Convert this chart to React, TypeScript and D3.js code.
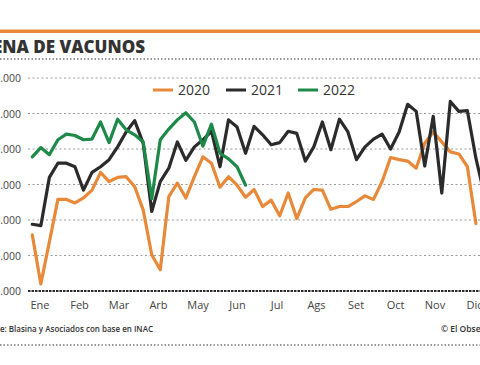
import * as d3 from "d3";
import { useEffect, useRef } from "react";

// weekly cattle slaughter (head)
const weeks2020 = [37900, 31000, 36900, 42900, 42900, 42400, 43100, 44200, 46700, 45400, 46000, 46100, 44700, 41400, 35100, 33000, 43300, 45200, 43100, 46100, 48900, 48000, 44600, 46100, 44900, 43200, 44300, 41900, 42800, 40600, 43800, 40200, 43100, 44300, 44200, 41500, 41900, 41900, 42600, 43400, 42900, 45400, 48800, 48500, 48300, 47300, 50800, 52400, 51000, 49600, 49300, 47500, 39500];
const weeks2021 = [39400, 39200, 46000, 48000, 48000, 47500, 44200, 46700, 47500, 48500, 50300, 52400, 54000, 50800, 41200, 45400, 47300, 51000, 48400, 50300, 51300, 52500, 47500, 54100, 53100, 49400, 53200, 52000, 50600, 50900, 52500, 52200, 48300, 50300, 53800, 49900, 54200, 52400, 48500, 50300, 51400, 52100, 50000, 52400, 56300, 55300, 47600, 54600, 43800, 56700, 55300, 55400, 48700, 43500];
const weeks2022 = [48900, 50200, 49200, 51300, 52100, 51900, 51300, 51400, 53800, 50900, 54200, 52700, 52000, 51000, 43000, 51300, 52800, 54100, 55100, 53800, 50400, 53500, 49400, 48600, 47500, 44900];

const years = ["2020", "2021", "2022"];
const months = ["Ene", "Feb", "Mar", "Arb", "May", "Jun", "Jul", "Ags", "Set", "Oct", "Nov", "Dic"];
const yTicks = [30000, 35000, 40000, 45000, 50000, 55000, 60000];

const colors = ["#e8893a", "#2b2b2b", "#1e8a4a"];
const font = "'Open Sans', sans-serif";

export default function App() {
    const svgRef = useRef(null);
    const width = 480;
    const height = 365;

    useEffect(() => {
        const svg = d3.select(svgRef.current)
            .attr("width", width)
            .attr("height", height);

        svg.selectAll("*").remove();

        const x = d3.scaleLinear().domain([0, 52]).range([32.3, 475.9]);
        const y = d3.scaleLinear().domain([30000, 60000]).range([291, 78]);
        const xMonth = d3.scaleBand().domain(months).range([20.25, 494.25]);
        const fmt = d3.formatLocale({ decimal: ",", thousands: ".", grouping: [3], currency: ["", ""] }).format(",");

        svg.append("rect").attr("width", width).attr("height", height).attr("fill", "#fff");

        // header
        svg.append("rect")
            .attr("x", 0).attr("y", 29.5).attr("width", width).attr("height", 3.5)
            .attr("fill", colors[0]);

        svg.append("text")
            .attr("x", 145).attr("y", 53)
            .attr("text-anchor", "end")
            .attr("font-family", font)
            .attr("font-weight", 800)
            .attr("font-size", 17)
            .attr("fill", "#333")
            .text("FAENA DE VACUNOS");

        svg.append("line")
            .attr("x1", 0).attr("x2", width).attr("y1", 59).attr("y2", 59)
            .attr("stroke", "#333").attr("stroke-width", 1.2)
            .attr("stroke-dasharray", "1.5,2");

        // grid + y labels
        const grid = svg.append("g");
        grid.selectAll("line")
            .data(yTicks.filter(t => t > 30000))
            .join("line")
            .attr("x1", 28).attr("x2", width)
            .attr("y1", d => y(d)).attr("y2", d => y(d))
            .attr("stroke", "#9a9a9a").attr("stroke-width", 1)
            .attr("stroke-dasharray", "2,2.5");

        grid.selectAll("text")
            .data(yTicks)
            .join("text")
            .attr("x", 21).attr("y", d => y(d) + 4)
            .attr("text-anchor", "end")
            .attr("font-family", font)
            .attr("font-size", 10.5)
            .attr("fill", "#444")
            .text(d => fmt(d));

        svg.append("line")
            .attr("x1", 28).attr("x2", width).attr("y1", y(30000)).attr("y2", y(30000))
            .attr("stroke", "#2b2b2b").attr("stroke-width", 2.2)
            .attr("stroke-dasharray", "2.5,1");

        // month labels
        svg.append("g").selectAll("text")
            .data(months)
            .join("text")
            .attr("x", d => xMonth(d) + xMonth.bandwidth() / 2)
            .attr("y", 309)
            .attr("text-anchor", "middle")
            .attr("font-family", font)
            .attr("font-size", 11)
            .attr("fill", "#444")
            .text(d => d);

        // series
        const line = d3.line()
            .x((d, i) => x(i))
            .y(d => y(d));

        const series = [weeks2020, weeks2021, weeks2022];
        svg.append("g").selectAll("path")
            .data(series)
            .join("path")
            .attr("d", d => line(d))
            .attr("fill", "none")
            .attr("stroke", (d, i) => colors[i])
            .attr("stroke-width", 3.2)
            .attr("stroke-linejoin", "round")
            .attr("stroke-linecap", "round");

        // legend
        const legendX = [153, 226, 298];
        const legend = svg.append("g").selectAll("g")
            .data(years)
            .join("g")
            .attr("transform", (d, i) => `translate(${legendX[i]}, 90)`);
        legend.append("line")
            .attr("x1", 0).attr("x2", 20).attr("y1", 0).attr("y2", 0)
            .attr("stroke", (d, i) => colors[i]).attr("stroke-width", 3);
        legend.append("text")
            .attr("x", 25).attr("y", 5)
            .attr("font-family", font)
            .attr("font-size", 14)
            .attr("fill", "#333")
            .text(d => d);

        // footer
        svg.append("text")
            .attr("x", 153).attr("y", 332)
            .attr("text-anchor", "end")
            .attr("font-family", font)
            .attr("font-weight", 600)
            .attr("font-size", 8)
            .attr("fill", "#333")
            .text("Fuente: Blasina y Asociados con base en INAC");

        svg.append("text")
            .attr("x", 441).attr("y", 332)
            .attr("font-family", font)
            .attr("font-weight", 600)
            .attr("font-size", 8.5)
            .attr("fill", "#333")
            .text("© El Observador");

        svg.append("line")
            .attr("x1", 0).attr("x2", width).attr("y1", 345).attr("y2", 345)
            .attr("stroke", "#333").attr("stroke-width", 1)
            .attr("stroke-dasharray", "1.5,2");
    }, []);

    return (
        <svg
            ref={svgRef}
            style={{ position: "absolute", left: 0, top: 0, display: "block", overflow: "hidden" }}
        />
    );
}
